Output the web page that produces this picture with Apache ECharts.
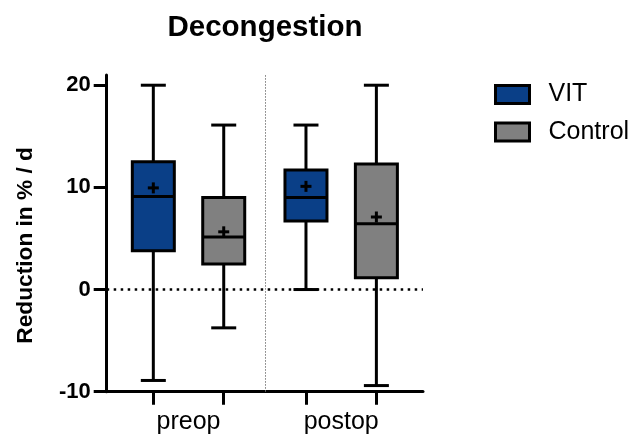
<!DOCTYPE html>
<html>
<head>
<meta charset="utf-8">
<script src="https://cdn.jsdelivr.net/npm/echarts@6/dist/echarts.min.js"></script>
<style>
html,body{margin:0;padding:0;background:#fff;}
#chart{width:630px;height:436px;}
</style>
</head>
<body>
<div id="chart"></div>
<script>
// ---- data ----
const groups = ['preop', 'postop'];
const seriesNames = ['VIT', 'Control'];
// [min, Q1, median, Q3, max] per group
const vitStats = [[-8.9, 3.8, 9.1, 12.5, 20.0], [0.0, 6.7, 9.0, 11.7, 16.1]];
const controlStats = [[-3.75, 2.5, 5.15, 9.0, 16.1], [-9.4, 1.15, 6.45, 12.3, 20.0]];
const vitMeans = [9.95, 10.1];
const controlMeans = [5.65, 7.1];
const yTicks = [-10, 0, 10, 20];

const FONT = "'Liberation Sans', Arial, Helvetica, sans-serif";
const colors = ['#0A3F87', '#808080'];
const OFFSET = 0.2306; // series offset within group (axis units)
const BOX_HALF = 21;   // px
const CAP_HALF = 12.5; // px
const PLUS_HALF = 5.5; // px

function rows(stats, means) {
  return groups.map((g, i) => [i].concat(stats[i], [means[i]]));
}

function makeRender(off) {
  return function (params, api) {
    const x = api.value(0) + off;
    const mn = api.value(1), q1 = api.value(2), md = api.value(3), q3 = api.value(4), mx = api.value(5), mean = api.value(6);
    const cx = api.coord([x, 0])[0];
    const y = v => api.coord([x, v])[1];
    const ls = { stroke: '#000', lineWidth: 3, fill: null };
    const color = api.visual('color');
    const line = (x1, y1, x2, y2) => ({ type: 'line', shape: { x1, y1, x2, y2 }, style: ls });
    return {
      type: 'group',
      children: [
        line(cx, y(mx), cx, y(q3)),
        line(cx, y(q1), cx, y(mn)),
        line(cx - CAP_HALF, y(mx), cx + CAP_HALF, y(mx)),
        line(cx - CAP_HALF, y(mn), cx + CAP_HALF, y(mn)),
        { type: 'rect', shape: { x: cx - BOX_HALF, y: y(q3), width: BOX_HALF * 2, height: y(q1) - y(q3) },
          style: { fill: color, stroke: '#000', lineWidth: 3 } },
        line(cx - BOX_HALF, y(md), cx + BOX_HALF, y(md)),
        line(cx - PLUS_HALF, y(mean), cx + PLUS_HALF, y(mean)),
        line(cx, y(mean) - PLUS_HALF, cx, y(mean) + PLUS_HALF)
      ]
    };
  };
}

const chart = echarts.init(document.getElementById('chart'), null, { renderer: 'canvas' });
chart.setOption({
  animation: false,
  backgroundColor: '#fff',
  title: {
    text: 'Decongestion',
    left: 265, top: 13, padding: 0, textAlign: 'center',
    textStyle: { fontFamily: FONT, fontSize: 29.5, fontWeight: 'bold', color: '#000' }
  },
  legend: {
    orient: 'vertical', left: 494, top: 82, padding: 0,
    itemWidth: 34, itemHeight: 18, itemGap: 12.5, icon: 'rect',
    itemStyle: { borderColor: '#000', borderWidth: 3 },
    textStyle: { fontFamily: FONT, fontSize: 25, color: '#000', padding: [0, 0, 0, 14] },
    data: seriesNames
  },
  grid: { left: 106.7, right: 207, top: 75, bottom: 44.3, containLabel: false, outerBoundsMode: 'none' },
  xAxis: {
    type: 'value', min: -0.536, max: 1.536,
    axisLine: { show: true, onZero: false, lineStyle: { color: '#000', width: 3 } },
    axisTick: { show: true, length: 13, lineStyle: { color: '#000', width: 3 },
      customValues: [-OFFSET, OFFSET, 1 - OFFSET, 1 + OFFSET] },
    axisLabel: { customValues: [0, 1], formatter: v => groups[Math.round(v)], margin: 18,
      fontFamily: FONT, fontSize: 25, color: '#000' },
    splitLine: { show: false }
  },
  yAxis: {
    type: 'value', min: -10, max: 21,
    name: 'Reduction in % / d', nameLocation: 'middle', nameGap: 69,
    nameTextStyle: { fontFamily: FONT, fontSize: 22.7, fontWeight: 'bold', color: '#000', padding: [0, 24, 0, 0] },
    axisLine: { show: true, onZero: false, lineStyle: { color: '#000', width: 3 } },
    axisTick: { show: true, length: 13, lineStyle: { color: '#000', width: 3 }, customValues: yTicks },
    axisLabel: { customValues: yTicks, margin: 16, fontFamily: FONT, fontSize: 22, fontWeight: 'bold', color: '#000' },
    splitLine: { show: false }
  },
  series: [
    {
      name: seriesNames[0], type: 'custom', renderItem: makeRender(-OFFSET),
      itemStyle: { color: colors[0] },
      encode: { x: 0, y: [1, 2, 3, 4, 5, 6] },
      data: rows(vitStats, vitMeans),
      markLine: {
        silent: true, symbol: 'none', label: { show: false },
        data: [
          { yAxis: 0, lineStyle: { color: '#000', width: 2.5, type: [2.5, 4.5] } },
          { xAxis: 0.5, lineStyle: { color: '#777', width: 1, type: [1.5, 1.5] } }
        ]
      }
    },
    {
      name: seriesNames[1], type: 'custom', renderItem: makeRender(OFFSET),
      itemStyle: { color: colors[1] },
      encode: { x: 0, y: [1, 2, 3, 4, 5, 6] },
      data: rows(controlStats, controlMeans)
    }
  ]
});
</script>
</body>
</html>
